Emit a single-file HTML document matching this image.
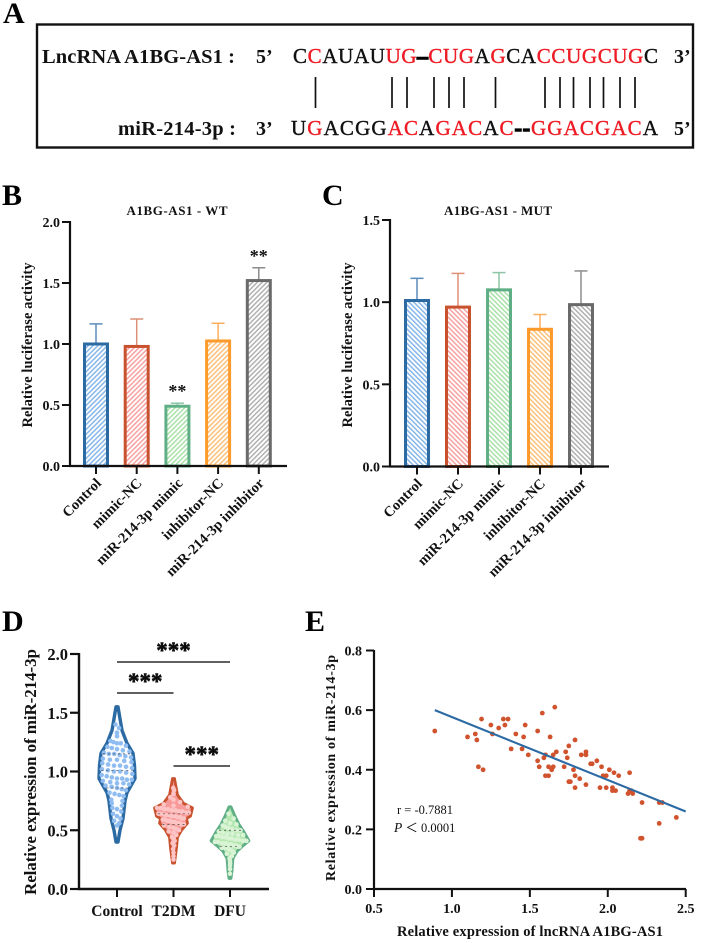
<!DOCTYPE html>
<html lang="en">
<head>
<meta charset="utf-8">
<title>A1BG-AS1 and miR-214-3p figure</title>
<style>
html,body{margin:0;padding:0;background:#fff}
svg{display:block}
text{font-family:"Liberation Serif",serif;fill:#111}
.b{font-weight:bold}
.panel{font-size:30px;font-weight:bold;fill:#000}
.r{fill:#ee1c25}
</style>
</head>
<body>
<svg id="fig" xmlns="http://www.w3.org/2000/svg" width="704" height="943" viewBox="0 0 704 943">
<defs>
<pattern id="hb0" width="3.4" height="3.4" patternUnits="userSpaceOnUse" patternTransform="rotate(45)"><rect width="1.5" height="3.4" fill="#86b6e8"/></pattern>
<pattern id="hb1" width="3.4" height="3.4" patternUnits="userSpaceOnUse" patternTransform="rotate(45)"><rect width="1.5" height="3.4" fill="#f7a0a0"/></pattern>
<pattern id="hb2" width="3.4" height="3.4" patternUnits="userSpaceOnUse" patternTransform="rotate(45)"><rect width="1.5" height="3.4" fill="#a8e0a8"/></pattern>
<pattern id="hb3" width="3.4" height="3.4" patternUnits="userSpaceOnUse" patternTransform="rotate(45)"><rect width="1.5" height="3.4" fill="#fcc07a"/></pattern>
<pattern id="hb4" width="3.4" height="3.4" patternUnits="userSpaceOnUse" patternTransform="rotate(45)"><rect width="1.5" height="3.4" fill="#b0b0b0"/></pattern>
<pattern id="hc0" width="3.4" height="3.4" patternUnits="userSpaceOnUse" patternTransform="rotate(-45)"><rect width="1.5" height="3.4" fill="#86b6e8"/></pattern>
<pattern id="hc1" width="3.4" height="3.4" patternUnits="userSpaceOnUse" patternTransform="rotate(-45)"><rect width="1.5" height="3.4" fill="#f7a0a0"/></pattern>
<pattern id="hc2" width="3.4" height="3.4" patternUnits="userSpaceOnUse" patternTransform="rotate(-45)"><rect width="1.5" height="3.4" fill="#a8e0a8"/></pattern>
<pattern id="hc3" width="3.4" height="3.4" patternUnits="userSpaceOnUse" patternTransform="rotate(-45)"><rect width="1.5" height="3.4" fill="#fcc07a"/></pattern>
<pattern id="hc4" width="3.4" height="3.4" patternUnits="userSpaceOnUse" patternTransform="rotate(-45)"><rect width="1.5" height="3.4" fill="#b0b0b0"/></pattern>
</defs>

<!-- Panel A -->
<text class="panel" x="3" y="23">A</text>
<rect x="37" y="24.5" width="656" height="123" fill="none" stroke="#111" stroke-width="2.4"/>
<text class="b" x="42" y="63" font-size="20.5" textLength="193">LncRNA A1BG-AS1 :</text>
<text class="b" x="256" y="63" font-size="20">5’</text>
<text x="293" y="63" font-size="21" textLength="365" stroke="#111" stroke-width="0.4">C<tspan class="r" stroke="#ee1c25">C</tspan>AUAU<tspan class="r" stroke="#ee1c25">UG</tspan><tspan font-weight="bold" stroke="#000" stroke-width="1.6">–</tspan><tspan class="r" stroke="#ee1c25">CUG</tspan>A<tspan class="r" stroke="#ee1c25">G</tspan>CA<tspan class="r" stroke="#ee1c25">CCUGCUG</tspan>C</text>
<text class="b" x="674" y="63" font-size="20">3’</text>
<g id="bonds"></g>
<text class="b" x="118" y="135" font-size="20.5" textLength="118">miR-214-3p :</text>
<text class="b" x="256" y="135" font-size="20">3’</text>
<text x="291" y="135" font-size="21" textLength="367" stroke="#111" stroke-width="0.4">U<tspan class="r" stroke="#ee1c25">G</tspan>ACGG<tspan class="r" stroke="#ee1c25">AC</tspan>A<tspan class="r" stroke="#ee1c25">GAC</tspan>A<tspan class="r" stroke="#ee1c25">C</tspan><tspan font-weight="bold" stroke="#000" stroke-width="1.6">-</tspan><tspan font-weight="bold" stroke="#000" stroke-width="1.6">-</tspan><tspan class="r" stroke="#ee1c25">GGACGAC</tspan>A</text>
<text class="b" x="674" y="135" font-size="20">5’</text>

<!-- Panel letters and titles -->
<text class="panel" x="2" y="205">B</text>
<text class="panel" x="322" y="205">C</text>
<text class="panel" x="2" y="631">D</text>
<text class="panel" x="305" y="631">E</text>
<text class="b" x="177" y="215" font-size="13" text-anchor="middle" textLength="101">A1BG-AS1 - WT</text>
<text class="b" x="498" y="215" font-size="13" text-anchor="middle" textLength="108">A1BG-AS1 - MUT</text>
<text class="b" transform="translate(32,345) rotate(-90)" font-size="14.5" text-anchor="middle" textLength="165">Relative luciferase activity</text>
<text class="b" transform="translate(352,345) rotate(-90)" font-size="14.5" text-anchor="middle" textLength="165">Relative luciferase activity</text>
<text class="b" transform="translate(36,772) rotate(-90)" font-size="17" text-anchor="middle" textLength="246">Relative expression of miR-214-3p</text>
<text class="b" transform="translate(335,768) rotate(-90)" font-size="14" text-anchor="middle" textLength="226">Relative expression of miR-214-3p</text>
<text class="b" x="530" y="936" font-size="14.5" text-anchor="middle" textLength="266">Relative expression of lncRNA A1BG-AS1</text>

<g id="chartB"></g>
<g id="chartC"></g>
<g id="chartD"></g>
<g id="chartE"></g>

<text x="397" y="814" font-size="12.5" textLength="56">r = -0.7881</text>
<text x="394" y="832" font-size="12.5"><tspan font-style="italic" font-size="13.5">P</tspan> ＜ 0.0001</text>
</svg>

<script>
// Panel A: base-pair line positions, counted along the sequence in letters
const bondPositions = [1, 6.1, 7.1, 8.9, 9.9, 10.9, 13, 16.3, 17.3, 18.2, 19.3, 20.2, 21.3, 22.3];

// Panels B and C
const barCategories = ["Control", "mimic-NC", "miR-214-3p mimic", "inhibitor-NC", "miR-214-3p inhibitor"];
const barBValues = [1.0, 0.98, 0.49, 1.025, 1.52];
const barBErrors = [1.165, 1.205, 0.515, 1.17, 1.625];
const barBSignificance = ["", "", "**", "", "**"];
const barBTicks = [0, 0.5, 1, 1.5, 2];
const barCValues = [1.01, 0.97, 1.075, 0.835, 0.985];
const barCErrors = [1.145, 1.175, 1.18, 0.925, 1.19];
const barCSignificance = ["", "", "", "", ""];
const barCTicks = [0, 0.5, 1, 1.5];

// Panel D
const violinCategories = ["Control", "T2DM", "DFU"];
const violinTicks = [0, 0.5, 1, 1.5, 2];
const controlValues = [1.40,1.37,1.33,1.30,1.26,1.25,1.24,1.24,1.22,1.21,1.20,1.19,1.18,1.17,1.16,1.15,1.15,1.14,1.13,1.12,1.11,1.10,1.10,1.09,1.08,1.07,1.06,1.05,1.05,1.04,1.03,1.02,1.01,1.00,1.00,0.99,0.98,0.97,0.96,0.95,0.94,0.94,0.93,0.93,0.92,0.91,0.90,0.90,0.89,0.88,0.87,0.86,0.85,0.84,0.82,0.81,0.80,0.79,0.76,0.75,0.73,0.71,0.69,0.68,0.66,0.64,0.62,0.60,0.58,0.56,0.54];
const t2dmValues = [0.86,0.84,0.81,0.78,0.76,0.74,0.72,0.71,0.70,0.69,0.69,0.68,0.68,0.67,0.67,0.66,0.66,0.65,0.65,0.64,0.64,0.63,0.63,0.62,0.62,0.61,0.61,0.60,0.60,0.59,0.59,0.58,0.58,0.57,0.57,0.56,0.56,0.55,0.55,0.54,0.53,0.52,0.51,0.50,0.49,0.48,0.46,0.44,0.43,0.41,0.39,0.37,0.34,0.31,0.28,0.25];
const dfuValues = [0.64,0.60,0.58,0.56,0.55,0.54,0.53,0.52,0.51,0.50,0.50,0.49,0.48,0.47,0.47,0.46,0.46,0.45,0.45,0.44,0.44,0.43,0.43,0.42,0.42,0.41,0.41,0.40,0.40,0.39,0.39,0.38,0.38,0.37,0.37,0.36,0.36,0.35,0.35,0.34,0.33,0.32,0.31,0.30,0.28,0.26,0.24,0.22,0.20,0.17,0.13];
const controlMedians = [0.86, 1.01, 1.15];
const t2dmMedians = [0.55, 0.64];
const dfuMedians = [0.36, 0.50];
const controlProfileV = [1.55,1.45,1.35,1.24,1.155,1.05,0.94,0.88,0.82,0.75,0.60,0.50,0.40];
const controlProfileW = [1,3,5,10,16,17.5,18,14,10,8,6,3,1];
const t2dmProfileV = [0.94,0.87,0.80,0.73,0.69,0.62,0.60,0.56,0.50,0.44,0.35,0.22];
const t2dmProfileW = [1,2.5,4,10,19,17,13,14,8,4,3,1];
const dfuProfileV = [0.70,0.62,0.55,0.50,0.41,0.36,0.32,0.26,0.15,0.09];
const dfuProfileW = [1,5,9,13,19,12,7,3,2,1];

// Panel E
const scatterX = [0.89,1.10,1.15,1.16,1.19,1.17,1.20,1.25,1.26,1.30,1.33,1.36,1.34,1.38,1.41,1.45,1.46,1.47,1.49,1.55,1.55,1.56,1.58,1.66,1.59,1.60,1.60,1.62,1.62,1.63,1.64,1.65,1.65,1.67,1.72,1.73,1.74,1.75,1.75,1.76,1.78,1.79,1.79,1.79,1.82,1.83,1.86,1.86,1.86,1.89,1.90,1.93,1.95,1.96,1.97,1.99,1.99,2.01,2.03,2.03,2.04,2.05,2.07,2.13,2.14,2.14,2.15,2.16,2.22,2.21,2.22,2.33,2.35,2.33,2.44];
const scatterY = [0.53,0.51,0.52,0.50,0.57,0.41,0.40,0.55,0.52,0.54,0.57,0.57,0.55,0.47,0.52,0.47,0.51,0.55,0.45,0.53,0.43,0.41,0.59,0.61,0.44,0.45,0.38,0.38,0.41,0.51,0.40,0.41,0.45,0.46,0.41,0.46,0.44,0.48,0.36,0.36,0.40,0.50,0.38,0.34,0.37,0.45,0.46,0.45,0.35,0.42,0.42,0.43,0.34,0.41,0.38,0.38,0.34,0.40,0.34,0.33,0.39,0.33,0.38,0.32,0.39,0.33,0.33,0.32,0.29,0.17,0.17,0.29,0.29,0.22,0.24];
const fitX = [0.89, 2.5];
const fitY = [0.60, 0.26];
const scatterXTicks = [0.5, 1, 1.5, 2, 2.5];
const scatterYTicks = [0, 0.2, 0.4, 0.6, 0.8];

const NS = "http://www.w3.org/2000/svg";
const strokes = ["#2c6aa3", "#c9522e", "#5fae86", "#fd9a2c", "#6a6a6a"];
const errStrokes = ["#5a8cbc", "#dd8f77", "#8cc5a6", "#fdae5c", "#8c8c8c"];

function mk(tag, attrs, parent, txt) {
  const e = document.createElementNS(NS, tag);
  for (const k in attrs) e.setAttribute(k, attrs[k]);
  if (txt !== undefined) e.textContent = txt;
  parent.appendChild(e);
  return e;
}
function scale(d0, d1, r0, r1) {
  return v => r0 + (v - d0) * (r1 - r0) / (d1 - d0);
}
function fmt(v) { return v.toFixed(1); }

// Base-pair lines
const bondsG = document.getElementById("bonds");
const bondX = scale(0, 24, 300.5, 660.5);
bondPositions.forEach(p => {
  const x = bondX(p);
  const el = mk("line", {x1: x, x2: x, y1: 77, y2: 108, stroke: "#111", "stroke-width": 1.7}, bondsG);
  
  
});

function axisLine(g, x1, y1, x2, y2, w) {
  const el = mk("line", {x1, y1, x2, y2, stroke: "#111", "stroke-width": w || 2.2}, g);
  
  
  return el;
}
function tickMark(g, x1, y1, x2, y2, w) {
  const el = mk("line", {x1, y1, x2, y2, stroke: "#111", "stroke-width": w || 2}, g);
  
  
  return el;
}

function barChart(id, hatch, values, errors, sig, ticks, yMax, axisX, axisRight, topY, baseY, firstX, step) {
  const g = document.getElementById(id);
  const y = scale(0, yMax, baseY, topY);
  const x = i => firstX + i * step;
  values.forEach((v, i) => {
    const cx = x(i);
    const err = mk("line", {x1: cx, x2: cx, y1: y(v), y2: y(errors[i]), stroke: errStrokes[i], "stroke-width": 1.5}, g);
    
    
    const cap = mk("line", {x1: cx - 6.5, x2: cx + 6.5, y1: y(errors[i]), y2: y(errors[i]), stroke: errStrokes[i], "stroke-width": 1.5}, g);
    
    
    const bar = mk("rect", {x: cx - 11.5, y: y(v), width: 23, height: baseY - y(v), fill: "url(#" + hatch + i + ")", stroke: strokes[i], "stroke-width": 3}, g);
    
    
    if (sig[i]) {
      const s = mk("text", {x: cx, y: y(errors[i]) - 6, "font-size": 18, "font-weight": "bold", "text-anchor": "middle", fill: "#000"}, g, sig[i]);
      
      
    }
    tickMark(g, cx, baseY, cx, baseY + 8);
    const lab = mk("text", {transform: "translate(" + (cx + 6) + "," + (baseY + 18) + ") rotate(-45)", "font-size": 14.5, "font-weight": "bold", "text-anchor": "end"}, g, barCategories[i]);
    
    
  });
  axisLine(g, axisX, topY - 1, axisX, baseY + 1);
  axisLine(g, axisX - 1, baseY, axisRight, baseY);
  ticks.forEach(t => {
    tickMark(g, axisX - 8, y(t), axisX, y(t));
    const lab = mk("text", {x: axisX - 10, y: y(t) + 5, "font-size": 14, "font-weight": "bold", "text-anchor": "end"}, g, fmt(t));
    
    
  });
}
barChart("chartB", "hb", barBValues, barBErrors, barBSignificance, barBTicks, 2, 70, 287, 222, 466, 96, 40.7);
barChart("chartC", "hc", barCValues, barCErrors, barCSignificance, barCTicks, 1.5, 390, 609, 220, 466.5, 417, 41);

// Panel D
const gD = document.getElementById("chartD");
const yD = scale(0, 2, 889, 654);
const xD = i => 117 + i * 56.5;

function violinPath(cx, vs, ws) {
  let right = "", left = "";
  vs.forEach((v, i) => { right += (i ? "L" : "M") + (cx + ws[i]) + " " + yD(v); });
  for (let i = vs.length - 1; i >= 0; i--) left += "L" + (cx - ws[i]) + " " + yD(vs[i]);
  return right + left + "Z";
}
function halfWidth(v, vs, ws) {
  for (let i = 0; i < vs.length - 1; i++) {
    if (v <= vs[i] && v >= vs[i + 1]) {
      return ws[i] + (ws[i + 1] - ws[i]) * (vs[i] - v) / (vs[i] - vs[i + 1]);
    }
  }
  return 1;
}
function violin(i, vs, ws, values, medians, stroke, fill, dot, sw) {
  const cx = xD(i);
  const outline = mk("path", {d: violinPath(cx, vs, ws), fill, stroke, "stroke-width": sw, "stroke-linejoin": "round"}, gD);
  
  
  const rows = {};
  values.forEach(v => {
    const k = Math.round(v * 21);
    (rows[k] = rows[k] || []).push(v);
  });
  Object.keys(rows).forEach(k => {
    const row = rows[k];
    row.forEach((v, j) => {
      const w = Math.max(halfWidth(v, vs, ws) - 2.5, 0);
      const off = row.length > 1 ? -w + 2 * w * j / (row.length - 1) : 0;
      const c = mk("circle", {cx: cx + off, cy: yD(v), r: 2.3, fill: dot}, gD);
      
      
    });
  });
  medians.forEach(m => {
    const w = halfWidth(m, vs, ws) - 2;
    const l = mk("line", {x1: cx - w, x2: cx + w, y1: yD(m), y2: yD(m), stroke: "#444", "stroke-width": 0.7, "stroke-dasharray": "2 3"}, gD);
    
    
  });
  tickMark(gD, cx, 889, cx, 897);
  const lab = mk("text", {x: cx, y: 916, "font-size": 15.5, "font-weight": "bold", "text-anchor": "middle"}, gD, violinCategories[i]);
  
  
}
violin(0, controlProfileV, controlProfileW, controlValues, controlMedians, "#2c6aa3", "#fbfdff", "#8fbdf1", 3.4);
violin(1, t2dmProfileV, t2dmProfileW, t2dmValues, t2dmMedians, "#c9522e", "#f99a9a", "#fcc4c4", 2.8);
violin(2, dfuProfileV, dfuProfileW, dfuValues, dfuMedians, "#5fae86", "#b4e6b0", "#d8f4d4", 2.8);

axisLine(gD, 79, 653, 79, 890, 2.4);
axisLine(gD, 78, 889, 269, 889, 2.4);
violinTicks.forEach(t => {
  tickMark(gD, 70, yD(t), 79, yD(t), 2.2);
  const lab = mk("text", {x: 68, y: yD(t) + 6, "font-size": 16.5, "font-weight": "bold", "text-anchor": "end"}, gD, fmt(t));
  
  
});
const brackets = [[0, 2, 662, "***"], [0, 1, 693, "***"], [1, 2, 766, "***"]];
brackets.forEach(b => {
  const l = mk("line", {x1: xD(b[0]), x2: xD(b[1]), y1: b[2], y2: b[2], stroke: "#000", "stroke-width": 1.3}, gD);
  
  
  const s = mk("text", {x: (xD(b[0]) + xD(b[1])) / 2, y: b[2] - 4, "font-size": 23, "font-weight": "bold", "text-anchor": "middle", fill: "#000", stroke: "#000", "stroke-width": 0.5}, gD, b[3]);
  
  
});

// Panel E
const gE = document.getElementById("chartE");
const xE = scale(0.5, 2.5, 374, 685.7);
const yE = scale(0, 0.8, 889, 650.5);
scatterX.forEach((v, i) => {
  const c = mk("circle", {cx: xE(v), cy: yE(scatterY[i]), r: 2.4, fill: "#d0532e"}, gE);
  
  
});
const fit = mk("line", {x1: xE(fitX[0]), y1: yE(fitY[0]), x2: xE(fitX[1]), y2: yE(fitY[1]), stroke: "#2c6aa3", "stroke-width": 2.1}, gE);


axisLine(gE, 374, 650, 374, 890);
axisLine(gE, 373, 889, 686, 889);
scatterYTicks.forEach(t => {
  tickMark(gE, 366, yE(t), 374, yE(t));
  const lab = mk("text", {x: 362, y: yE(t) + 5, "font-size": 14, "font-weight": "bold", "text-anchor": "end"}, gE, fmt(t));
  
  
});
scatterXTicks.forEach(t => {
  tickMark(gE, xE(t), 889, xE(t), 897);
  const lab = mk("text", {x: xE(t), y: 913, "font-size": 14, "font-weight": "bold", "text-anchor": "middle"}, gE, fmt(t));
  
  
});
</script>
</body>
</html>
